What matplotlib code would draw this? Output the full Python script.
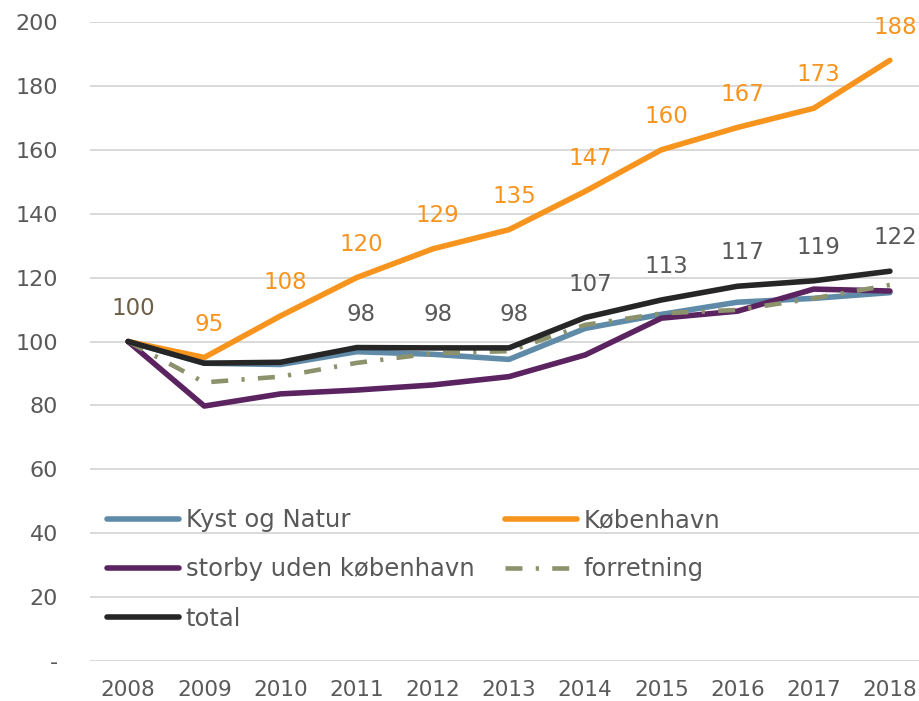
import matplotlib
matplotlib.use('Agg')
import matplotlib.pyplot as plt

# data (indeks, 2008 = 100)
years = [2008, 2009, 2010, 2011, 2012, 2013, 2014, 2015, 2016, 2017, 2018]
kyst = [100, 93.2, 92.8, 96.8, 96.0, 94.4, 104.1, 108.5, 112.3, 113.5, 115.3]
kbh = [100, 95, 108, 120, 129, 135, 147, 160, 167, 173, 188]
storby = [100, 79.8, 83.6, 84.8, 86.4, 89.0, 95.8, 107.3, 109.5, 116.4, 115.8]
forretning = [100, 87.2, 89.0, 93.3, 96.3, 97.0, 105.2, 108.8, 109.9, 113.5, 117.7]
total = [100, 93.2, 93.5, 98.1, 98.0, 98.0, 107.5, 113, 117.3, 119, 122]

# synlige datalabels
kbh_labels = ['', '95', '108', '120', '129', '135', '147', '160', '167', '173', '188']
total_labels = ['100', '', '', '98', '98', '98', '107', '113', '117', '119', '122']

yticks = [0, 20, 40, 60, 80, 100, 120, 140, 160, 180, 200]
ytick_labels = ['-', '20', '40', '60', '80', '100', '120', '140', '160', '180', '200']

grey = '#595959'
orange = '#F7941E'
plt.rcParams['font.family'] = ['DejaVu Sans']

fig = plt.figure(figsize=(9.2, 7.01), dpi=100)
ax = fig.add_axes([90 / 920, 40 / 701, 838 / 920, 639 / 701])

l1, = ax.plot(years, kyst, color='#5F8BA9', lw=4, label='Kyst og Natur', solid_capstyle='round')
l2, = ax.plot(years, kbh, color=orange, lw=4, label='København', solid_capstyle='round')
l3, = ax.plot(years, storby, color='#5B2360', lw=4, label='storby uden københavn', solid_capstyle='round')
l4, = ax.plot(years, forretning, color='#8C926C', lw=3.3, label='forretning',
              linestyle=(0, (3.7, 2.9, 0.7, 2.9)), dash_capstyle='butt')
l5, = ax.plot(years, total, color='#262626', lw=4, label='total', solid_capstyle='round')

# datalabels (Excel placerer dem lidt til højre for punktet)
for x, y, t in zip(years, kbh, kbh_labels):
    if t:
        ax.annotate(t, (x, y), xytext=(3.5, 24), textcoords='offset points',
                    ha='center', va='center', fontsize=16.5, color=orange)
for x, y, t in zip(years, total, total_labels):
    if t:
        c = '#6E5E46' if x == 2008 else grey
        ax.annotate(t, (x, y), xytext=(3.5, 24), textcoords='offset points',
                    ha='center', va='center', fontsize=16.5, color=c)

ax.set_xlim(2007.5, 2018.5)
ax.set_ylim(0, 200)
ax.set_yticks(yticks)
ax.set_yticklabels(ytick_labels)
ax.set_xticks(years)
ax.set_xticklabels([str(y) for y in years])
ax.tick_params(axis='y', length=0, pad=23, labelsize=16, labelcolor=grey)
ax.tick_params(axis='x', length=0, pad=14, labelsize=15.5, labelcolor=grey)
ax.grid(axis='y', color='#D9D9D9', lw=1.4)
ax.set_axisbelow(True)
for s in ax.spines.values():
    s.set_visible(False)

# legend: kolonne 1 = Kyst, storby, total; kolonne 2 = København, forretning
leg = ax.legend(handles=[l1, l3, l5, l2, l4], ncol=2, loc='upper left',
                bbox_to_anchor=(0.0084, 0.2545), frameon=False, fontsize=17.5,
                handlelength=2.96, handletextpad=0.29, columnspacing=1.25,
                labelspacing=1.04, borderaxespad=0)
for t in leg.get_texts():
    t.set_color(grey)

fig.savefig('out.png', dpi=100)
